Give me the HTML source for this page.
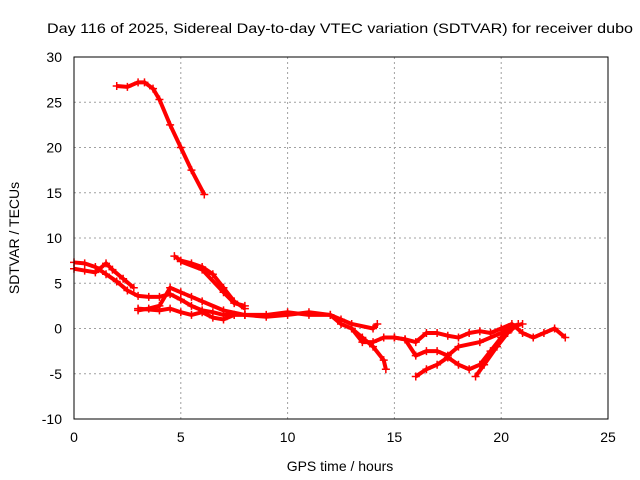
<!DOCTYPE html>
<html><head><meta charset="utf-8"><style>
body{margin:0;background:#fff}
svg{display:block;font-family:"Liberation Sans",sans-serif;font-size:14px}
</style></head><body>
<svg id="c" width="640" height="480">
<text x="47" y="33" textLength="586" lengthAdjust="spacingAndGlyphs">Day 116 of 2025, Sidereal Day-to-day VTEC variation (SDTVAR) for receiver dubo</text>
<text x="340" y="471" text-anchor="middle">GPS time / hours</text>
<text transform="translate(19,238) rotate(-90)" text-anchor="middle">SDTVAR / TECUs</text>
<g id="grid"></g><g id="ticks"></g><g id="marks"></g>
<rect x="74" y="57" width="534" height="362" fill="none" stroke="#000"/>
</svg>
<script>
const xTicks=[0,5,10,15,20,25];
const yTicks=[-10,-5,0,5,10,15,20,25,30];
const sA=[[2.0,26.8],[2.5,26.7],[3.0,27.2],[3.3,27.2],[3.7,26.5],[4.0,25.3],[4.5,22.5],[5.0,20.0],[5.5,17.5],[6.1,14.8]];
const sB=[[0,7.3],[0.5,7.2],[1,6.8],[1.5,6.0],[2,5.2],[2.5,4.2],[3,3.6],[3.5,3.5],[4,3.5],[4.5,3.8],[5,3.2],[5.5,2.5],[6,2.0],[6.5,1.8],[7,1.5],[7.5,1.5]];
const sB2=[[0,6.6],[0.5,6.4],[1,6.2],[1.5,7.2],[1.8,6.5],[2.3,5.5],[2.8,4.5]];
const sC=[[4.7,8.0],[5,7.5],[5.5,7.2],[6,6.8],[6.5,6.0],[7,4.5],[7.5,3.0],[8,2.2]];
const sC2=[[5.0,7.4],[6,6.5],[7,4.0],[7.5,2.8],[8,2.5]];
const sD=[[3.0,2.0],[3.5,2.2],[4,2.5],[4.5,4.5],[5,4.0],[5.5,3.5],[6,3.0],[7,2.0],[8,1.5]];
const sE=[[3,2.2],[4,2.0],[4.5,2.2],[5,1.8],[5.5,1.5],[6,1.8],[6.5,1.2],[7,1.0],[7.5,1.5],[8,1.5],[9,1.5],[10,1.8],[11,1.5],[12,1.5],[12.5,0.5],[13,0],[13.5,-1],[14,-2],[14.5,-3.5],[14.6,-4.5]];
const sF=[[8,1.5],[9,1.3],[10,1.5],[11,1.8],[12,1.5],[12.5,1.0],[13,0.5],[14,0],[14.2,0.5]];
const sG=[[13,0],[13.5,-1.5],[14,-1.5],[14.5,-1],[15,-1],[15.5,-1.2],[16,-1.5],[16.5,-0.5],[17,-0.5],[17.5,-0.8],[18,-1],[18.5,-0.5],[19,-0.3],[19.5,-0.5],[20,0],[20.5,0.5],[21,-0.5],[21.5,-1],[22,-0.5],[22.5,0],[23,-1]];
const sH=[[15,-1],[15.5,-1.2],[16,-3],[16.5,-2.5],[17,-2.5],[17.5,-3],[18,-2],[19,-1.5],[20,-0.5],[20.5,0.2],[21,0.5]];
const sI=[[16,-5.3],[16.5,-4.5],[17,-4],[17.5,-3.2],[18,-4],[18.5,-4.5],[19,-4],[19.5,-2.5],[20,-1],[20.5,0]];
const sJ=[[18.8,-5.3],[19.2,-4],[19.8,-2],[20.3,-0.5],[20.8,0.5]];
const series=[sA,sB,sB2,sC,sC2,sD,sE,sF,sG,sH,sI,sJ];
const X=v=>74+v*534/25, Y=v=>419-(v+10)*362/40;
const NS="http://www.w3.org/2000/svg";
function mk(t,a,p){const e=document.createElementNS(NS,t);for(const k in a)e.setAttribute(k,a[k]);p.appendChild(e);return e;}
const g=document.getElementById('grid'),tk=document.getElementById('ticks'),m=document.getElementById('marks');
xTicks.forEach(v=>{const x=X(v);
 if(v>0&&v<25){const l=mk('line',{x1:x,x2:x,y1:57,y2:419,stroke:'#a0a0a0','stroke-dasharray':'2,3'},g);}
 const t=mk('text',{x:x,y:442,'text-anchor':'middle'},tk);t.textContent=v;
 
 });
yTicks.forEach(v=>{const y=Y(v);
 if(v>-10&&v<30){const l=mk('line',{x1:74,x2:608,y1:y,y2:y,stroke:'#a0a0a0','stroke-dasharray':'2,3'},g);}
 const t=mk('text',{x:62,y:y+5,'text-anchor':'end'},tk);t.textContent=v;
 
 });
series.forEach((s,i)=>{
 const pl=mk('polyline',{points:s.map(p=>X(p[0])+','+Y(p[1])).join(' '),fill:'none',stroke:'#f00','stroke-width':4,'stroke-linejoin':'round'},m);
 
 
 s.forEach(p=>{const x=X(p[0]),y=Y(p[1]);
  const c=mk('path',{d:`M${x-4},${y}h8M${x},${y-4}v8`,stroke:'#f00','stroke-width':1.5},m);
  
  });
});
</script>
</body></html>
